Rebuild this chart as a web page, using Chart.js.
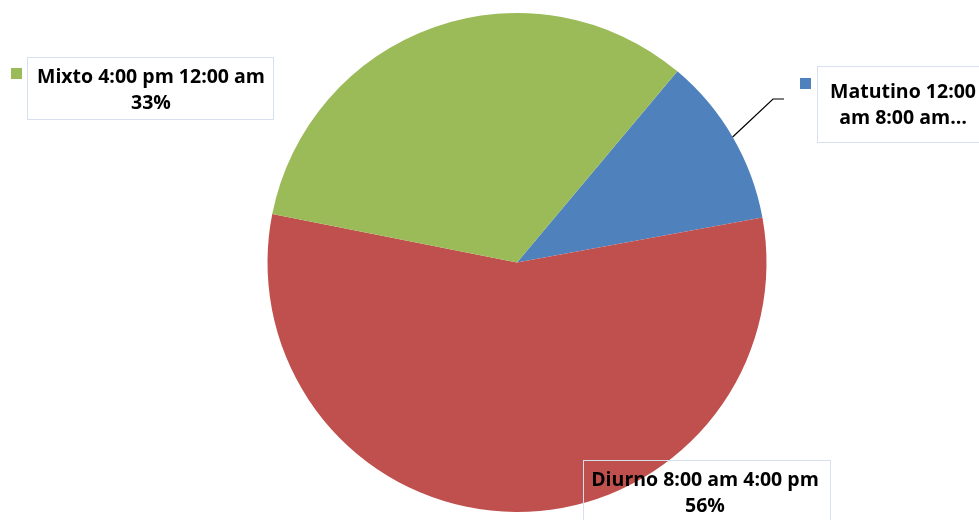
<!DOCTYPE html>
<html>
<head>
<meta charset="utf-8">
<script src="https://cdn.jsdelivr.net/npm/chart.js@4"></script>
<style>
  html, body { margin: 0; padding: 0; background: #fff; }
  #wrap { width: 979px; height: 520px; position: relative; }
</style>
</head>
<body>
<div id="wrap"><canvas id="turnos"></canvas></div>
<script>
// Datos del gráfico
const categorias = ['Matutino 12:00 am 8:00 am', 'Diurno 8:00 am 4:00 pm', 'Mixto 4:00 pm 12:00 am'];
const porcentajes = [11, 56, 33];
const etiquetas = [
    ['Matutino 12:00', 'am 8:00 am…'],
    ['Diurno 8:00 am 4:00 pm', '56%'],
    ['Mixto 4:00 pm 12:00 am', '33%']
];
const colores = ['#4f81bd', '#c0504d', '#9bbb59'];

// Cajas de etiquetas (posición de cada cuadro de texto)
const cajas = [
    { x: 817, y: 66, w: 170, h: 76, tx: 86, ty: 26, cuadro: [800, 78] },
    { x: 583, y: 460, w: 247, h: 70, tx: 122, ty: 20, cuadro: null },
    { x: 27, y: 57, w: 246, h: 62, tx: 124, ty: 20, cuadro: [11, 68] }
];

const etiquetasPlugin = {
    id: 'etiquetas',
    afterDraw(chart) {
        const ctx = chart.ctx;
        const arcs = chart.getDatasetMeta(0).data;
        ctx.save();

        // Línea guía para Matutino
        const a = arcs[0];
        const mid = (a.startAngle + a.endAngle) / 2;
        const px = a.x + Math.cos(mid) * a.outerRadius;
        const py = a.y + Math.sin(mid) * a.outerRadius;
        ctx.strokeStyle = '#000';
        ctx.lineWidth = 1.2;
        ctx.beginPath();
        ctx.moveTo(px, py);
        ctx.lineTo(773, 99);
        ctx.lineTo(784, 99);
        ctx.stroke();

        cajas.forEach((c, i) => {
            ctx.strokeStyle = '#d6e0ee';
            ctx.lineWidth = 1;
            ctx.strokeRect(c.x + 0.5, c.y + 0.5, c.w, c.h);
            if (c.cuadro) {
                ctx.fillStyle = colores[i];
                ctx.fillRect(c.cuadro[0], c.cuadro[1], 11, 11);
            }
            ctx.fillStyle = '#000';
            ctx.font = 'bold 19.5px "Open Sans"';
            ctx.textAlign = 'center';
            ctx.textBaseline = 'middle';
            const cx = c.x + c.tx;
            ctx.fillText(etiquetas[i][0], cx, c.y + c.ty);
            ctx.fillText(etiquetas[i][1], cx, c.y + c.ty + 26);
        });
        ctx.restore();
    }
};

new Chart(document.getElementById('turnos'), {
    type: 'pie',
    data: {
        labels: categorias,
        datasets: [{
            data: porcentajes,
            backgroundColor: colores,
            borderWidth: 0
        }]
    },
    options: {
        responsive: true,
        maintainAspectRatio: false,
        animation: false,
        rotation: 40,
        layout: { padding: { top: 13, bottom: 8, left: 55, right: 0 } },
        plugins: {
            legend: { display: false },
            tooltip: { enabled: false }
        }
    },
    plugins: [etiquetasPlugin]
});
</script>
</body>
</html>
